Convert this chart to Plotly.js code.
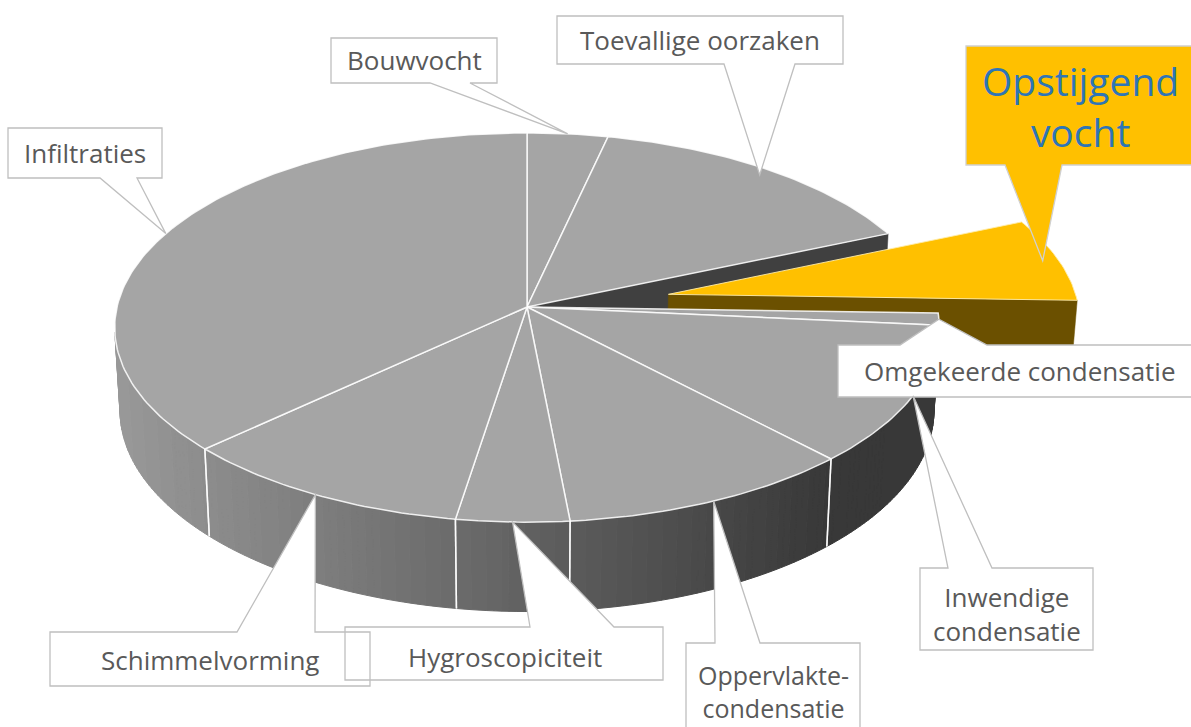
<!DOCTYPE html>
<html>
<head>
<meta charset="utf-8">
<script src="https://cdn.plot.ly/plotly-3.0.1.min.js"></script>
<style>html,body{margin:0;padding:0;background:#fff}#chart{width:1191px;height:727px}</style>
</head>
<body>
<div id="chart"></div>
<script>
// ---------------- data ----------------
const labels = ['Bouwvocht', 'Toevallige oorzaken', 'Opstijgend vocht', 'Omgekeerde condensatie',
  'Inwendige condensatie', 'Oppervlakte-condensatie', 'Hygroscopiciteit', 'Schimmelvorming', 'Infiltraties'];
const values = [3.5, 15, 7, 1, 11.5, 10.5, 4, 10.5, 37];
const explodedLabel = 'Opstijgend vocht';

// ---------------- style / geometry ----------------
const W = 1191, HGT = 727;
const G = {cx: 527, cy: 307, R: 410, H: 95, tilt: 28 * Math.PI / 180, F: 3432, pull: 145};
const FONT = '"Open Sans", "Noto Sans", sans-serif';
const TOP_GRAY = '#a5a5a5', EDGE = 'rgba(255,255,255,0.85)';
const EXP_TOP = '#FFC000', EXP_SIDE = '#6b5000', GAP_SIDE = '#404040';

const callouts = [
  {label: 'Bouwvocht', box: [331, 38, 497, 83], side: 'bottom', base: [430, 470], rf: 1, text: 'Bouwvocht', tx: 414, ty: 60},
  {label: 'Toevallige oorzaken', box: [557, 16, 843, 64], side: 'bottom', base: [724, 795], rf: 0.96, text: 'Toevallige oorzaken', tx: 700, ty: 40},
  {label: 'Infiltraties', box: [8, 128, 162, 178], side: 'bottom', base: [100, 137], rf: 1, text: 'Infiltraties', tx: 85, ty: 153},
  {label: 'Schimmelvorming', box: [50, 632, 370, 686], side: 'top', base: [237, 315], rf: 1, text: 'Schimmelvorming', tx: 210, ty: 660},
  {label: 'Hygroscopiciteit', box: [345, 627, 663, 680], side: 'top', base: [530, 614], rf: 1, text: 'Hygroscopiciteit', tx: 505, ty: 657},
  {label: 'Oppervlakte-condensatie', box: [686, 643, 860, 745], side: 'top', base: [715, 760], rf: 1, text: 'Oppervlakte-<br>condensatie', tx: 773, ty: 691, size: 25},
  {label: 'Inwendige condensatie', box: [920, 568, 1093, 650], side: 'top', base: [948, 992], rf: 1, text: 'Inwendige<br>condensatie', tx: 1007, ty: 614},
  {label: 'Omgekeerde condensatie', box: [838, 345, 1200, 397], side: 'top', base: [900, 987], rf: 1, text: 'Omgekeerde condensatie', tx: 1020, ty: 371},
  {label: 'Opstijgend vocht', box: [966, 46, 1200, 165], side: 'bottom', base: [1005, 1062], rf: 0.96, text: 'Opstijgend<br>vocht', tx: 1080, ty: 106,
   size: 39, color: '#2E75B6', fill: '#FFC000', line: '#d0d0d0'}
];

// ---------------- projection ----------------
const ct = Math.cos(G.tilt), st = Math.sin(G.tilt);
const camZ = -G.F * ct;
function proj(X, Y, Z) {
  const d = Z * ct - Y * st;
  const s = G.F / (G.F + d);
  return [G.cx + X * s, G.cy - (Y * ct + Z * st) * s];
}

const total = values.reduce((a, b) => a + b, 0);
const slices = [];
let acc = 0;
values.forEach((v, i) => {
  const a0 = acc / total * 2 * Math.PI;
  acc += v;
  const a1 = acc / total * 2 * Math.PI;
  const am = (a0 + a1) / 2;
  const ex = labels[i] === explodedLabel;
  slices.push({i, a0, a1, am, ex, ox: ex ? G.pull * Math.sin(am) : 0, oz: ex ? G.pull * Math.cos(am) : 0});
});

function rimPt(s, a, Y, rf) {
  rf = rf || 1;
  return proj(s.ox + G.R * rf * Math.sin(a), Y, s.oz + G.R * rf * Math.cos(a));
}
function ctrPt(s, Y) { return proj(s.ox, Y, s.oz); }
function wallVisible(s, a) {
  const px = s.ox + G.R * Math.sin(a), pz = s.oz + G.R * Math.cos(a);
  return (0 - px) * Math.sin(a) + (camZ - pz) * Math.cos(a) > 0;
}
function endFaceVisible(s) {
  return (0 - s.ox) * Math.cos(s.a1) + (camZ - s.oz) * (-Math.sin(s.a1)) > 0;
}
function startFaceVisible(s) {
  return (0 - s.ox) * (-Math.cos(s.a0)) + (camZ - s.oz) * Math.sin(s.a0) > 0;
}
function topPoly(s) {
  const pts = [ctrPt(s, 0)];
  const n = Math.max(2, Math.ceil((s.a1 - s.a0) / (Math.PI / 180)));
  for (let k = 0; k <= n; k++) pts.push(rimPt(s, s.a0 + (s.a1 - s.a0) * k / n, 0));
  pts.push(ctrPt(s, 0));
  return pts;
}
function radialQuad(s, a) {
  const q = [ctrPt(s, 0), rimPt(s, a, 0), rimPt(s, a, -G.H), ctrPt(s, -G.H)];
  q.push(q[0]);
  return q;
}
function wallQuads(s) {
  const out = [];
  const n = Math.max(1, Math.ceil((s.a1 - s.a0) / (Math.PI / 180)));
  for (let k = 0; k < n; k++) {
    const a = s.a0 + (s.a1 - s.a0) * k / n, b = s.a0 + (s.a1 - s.a0) * (k + 1) / n;
    if (!wallVisible(s, (a + b) / 2)) continue;
    const q = [rimPt(s, a, 0), rimPt(s, b, 0), rimPt(s, b, -G.H), rimPt(s, a, -G.H)];
    q.push(q[0]);
    out.push(q);
  }
  return out;
}
function polysTrace(polys, fill, line, lw) {
  const x = [], y = [];
  polys.forEach((p, j) => {
    if (j) { x.push(null); y.push(null); }
    p.forEach(q => { x.push(q[0]); y.push(q[1]); });
  });
  return {type: 'scatter', mode: 'lines', x, y, fill: 'toself', fillcolor: fill,
    line: {color: line, width: lw}, hoverinfo: 'skip', showlegend: false};
}
function gray(b) { b = Math.round(b); return 'rgb(' + b + ',' + b + ',' + b + ')'; }
function wallShade(x) { return Math.max(56, Math.min(156, 152 - 0.135 * (x - 120))); }

const traces = [];
const N = slices.length;

// 1. main-pie radial faces exposed by the exploded slice
slices.forEach((s, k) => {
  if (s.ex) return;
  const next = slices[(k + 1) % N], prev = slices[(k - 1 + N) % N];
  if (next.ex && endFaceVisible(s)) traces.push(polysTrace([radialQuad(s, s.a1)], GAP_SIDE, GAP_SIDE, 0.5));
  if (prev.ex && startFaceVisible(s)) traces.push(polysTrace([radialQuad(s, s.a0)], GAP_SIDE, GAP_SIDE, 0.5));
});

// 2. exploded slice
slices.filter(s => s.ex).forEach(s => {
  const wq = wallQuads(s);
  if (wq.length) traces.push(polysTrace(wq, EXP_SIDE, EXP_SIDE, 1));
  if (endFaceVisible(s)) traces.push(polysTrace([radialQuad(s, s.a1)], EXP_SIDE, EXP_SIDE, 0.5));
  if (startFaceVisible(s)) traces.push(polysTrace([radialQuad(s, s.a0)], EXP_SIDE, EXP_SIDE, 0.5));
  traces.push(polysTrace([topPoly(s)], EXP_TOP, 'rgba(255,236,170,0.9)', 1));
});

// 3. main-pie outer walls, shaded in bins
const bins = {};
slices.filter(s => !s.ex).forEach(s => {
  wallQuads(s).forEach(q => {
    const mx = (q[0][0] + q[1][0]) / 2;
    const b = Math.round(wallShade(mx) / 2) * 2;
    (bins[b] = bins[b] || []).push(q);
  });
});
Object.keys(bins).forEach(b => { const c = gray(+b); traces.push(polysTrace(bins[b], c, c, 1)); });

// 4. seams on the wall at slice boundaries
const sx = [], sy = [];
slices.filter(s => !s.ex).forEach(s => {
  [s.a0, s.a1].forEach(a => {
    if (!wallVisible(s, a)) return;
    const p = rimPt(s, a, 0), q = rimPt(s, a, -G.H);
    sx.push(p[0], q[0], null); sy.push(p[1], q[1], null);
  });
});
traces.push({type: 'scatter', mode: 'lines', x: sx, y: sy, line: {color: EDGE, width: 1.5},
  hoverinfo: 'skip', showlegend: false});

// 5. main-pie top faces
slices.filter(s => !s.ex).forEach(s => traces.push(polysTrace([topPoly(s)], TOP_GRAY, EDGE, 1.5)));

// ---------------- callouts ----------------
const shapesFill = [], shapesLine = [], annotations = [];
callouts.forEach(c => {
  const s = slices[labels.indexOf(c.label)];
  const tip = rimPt(s, s.am, 0, c.rf);
  const [x0, y0, x1, y1] = c.box, [b1, b2] = c.base;
  let pts;
  if (c.side === 'bottom') pts = [[x0, y0], [x1, y0], [x1, y1], [b2, y1], tip, [b1, y1], [x0, y1]];
  else pts = [[x0, y0], [b1, y0], tip, [b2, y0], [x1, y0], [x1, y1], [x0, y1]];
  const path = 'M ' + pts.map(p => p[0].toFixed(1) + ',' + p[1].toFixed(1)).join(' L ') + ' Z';
  shapesFill.push({type: 'path', path, xref: 'x', yref: 'y', layer: 'above',
    fillcolor: c.fill || '#ffffff', line: {width: 0}});
  shapesLine.push({type: 'path', path, xref: 'x', yref: 'y', layer: 'above',
    fillcolor: 'rgba(0,0,0,0)', line: {color: c.line || '#bfbfbf', width: 1.3}});
  annotations.push({x: c.tx, y: c.ty, xref: 'x', yref: 'y', text: c.text, showarrow: false,
    xanchor: 'center', yanchor: 'middle', align: 'center',
    font: {family: FONT, size: c.size || 26, color: c.color || '#595959'}});
});

const layout = {
  width: W, height: HGT, autosize: false,
  margin: {l: 0, r: 0, t: 0, b: 0, pad: 0},
  paper_bgcolor: '#ffffff', plot_bgcolor: '#ffffff',
  showlegend: false,
  xaxis: {range: [0, W], visible: false, fixedrange: true},
  yaxis: {range: [HGT, 0], visible: false, fixedrange: true},
  shapes: shapesFill.concat(shapesLine),
  annotations
};
Plotly.newPlot('chart', traces, layout, {staticPlot: true, displayModeBar: false});
</script>
</body>
</html>
